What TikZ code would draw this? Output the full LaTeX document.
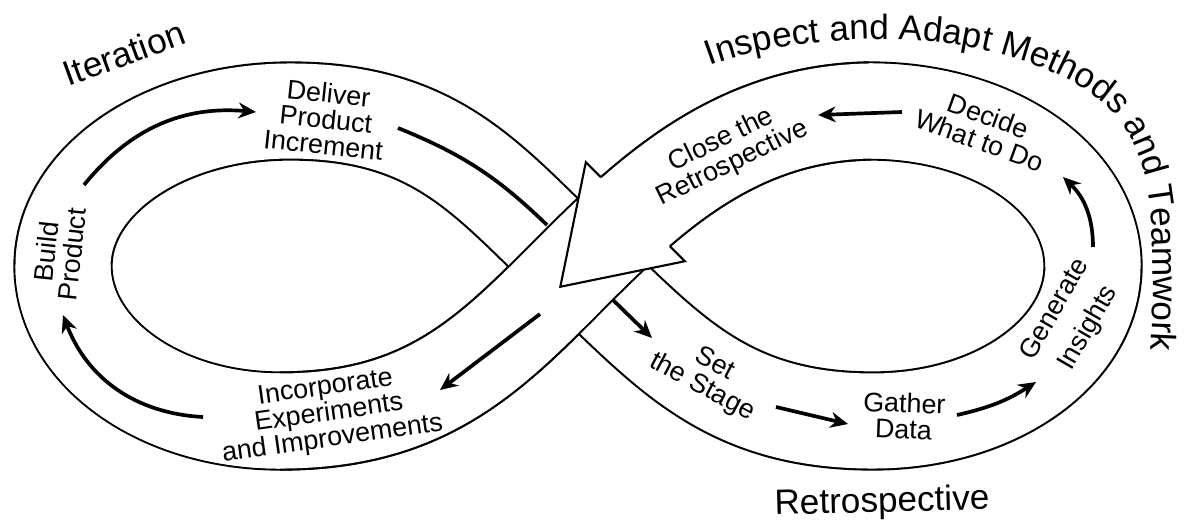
\documentclass[tikz,border=0pt]{standalone}
\usepackage{fontspec}
\setmainfont{Liberation Sans}
\usetikzlibrary{arrows.meta,decorations.text,calc}
\newcommand\figeightpath{(C) .. controls (666,348) and (723,421) .. (BR) .. controls (996,421) and (1093,352) .. (RR) .. controls (1093,180) and (996,111) .. (TR) .. controls (740,113) and (655,189) .. (C) .. controls (493,351) and (430,421) .. (BL) .. controls (160,421) and (63,352) .. (LL) .. controls (63,180) and (165,111) .. (TL) .. controls (440,111) and (490,184) .. (C)}
\newcommand\overbandpath{(BL) .. controls (430,421) and (493,351) .. (C) .. controls (655,189) and (740,113) .. (TR)}
\newcommand\overbandlong{(LL) .. controls (63,352) and (160,421) .. (BL) .. controls (430,421) and (493,351) .. (C) .. controls (655,189) and (740,113) .. (TR) .. controls (996,111) and (1093,180) .. (RR)}
\begin{document}
\setlength{\lineskiplimit}{-20pt}
\begin{tikzpicture}[x=0.02cm,y=-0.02cm,line cap=butt,
  bandedge/.style={line width=56.5pt,draw=black},
  bandwhite/.style={line width=54.1pt,draw=white},
  edgeline/.style={line width=1.2pt,line join=miter},
  flow/.style={line width=2.1pt,-{Stealth[length=10pt,width=9pt]}},
  flowline/.style={line width=2.1pt},
  lbl/.style={font=\fontsize{15.3}{14.8}\selectfont,align=center,inner sep=0pt},
  biglbl/.style={font=\fontsize{20}{24}\selectfont,inner sep=0pt}
]
\useasboundingbox (0,0) rectangle (1190,524);
\coordinate (TL) at (290,111);
\coordinate (C)  at (578,266);
\coordinate (BR) at (873,421);
\coordinate (RR) at (1093,266);
\coordinate (TR) at (870,111);
\coordinate (BL) at (280,421);
\coordinate (LL) at (63,266);
% whole figure-eight band
\draw[bandedge] \figeightpath;
\draw[bandwhite] \figeightpath;
% band crossing on top
\draw[bandedge] \overbandpath;
\draw[bandwhite] \overbandlong;
% big arrow head at the crossing
\path (C) .. controls (655,189) and (740,113) .. coordinate[pos=0.24] (M) (TR);
\coordinate (SHn) at ($(M)+(-34.5,-34.5)$);
\coordinate (SHs) at ($(M)+(34.5,34.5)$);
\coordinate (AHn) at ($(M)+(-49.5,-49.5)$);
\coordinate (AHs) at ($(M)+(49.5,49.5)$);
\coordinate (AHt) at ($(M)+(-75,75)$);
\fill[white] (SHn) -- (AHn) -- (AHt) -- (AHs) -- (SHs) -- cycle;
\draw[edgeline] (SHn) -- (AHn) -- (AHt) -- (AHs) -- (SHs);
% flow arrows
\coordinate (a1s) at (84,185);  \coordinate (a1e) at (256,112);
\coordinate (a2s) at (398,128); \coordinate (a2e) at (547,225);
\coordinate (a2t) at (613,300); \coordinate (a2u) at (652,338);
\coordinate (a3s) at (776,407); \coordinate (a3e) at (848,424);
\coordinate (a4s) at (957,415); \coordinate (a4e) at (1036,382);
\coordinate (a5s) at (1093,247); \coordinate (a5e) at (1063,177);
\coordinate (a6s) at (902,112); \coordinate (a6e) at (818,115);
\coordinate (a7s) at (540,314); \coordinate (a7e) at (440,390);
\coordinate (a8s) at (203,417); \coordinate (a8e) at (63,315);
\draw[flow] (a1s) to[bend left=28] (a1e);
\draw[flowline] (a2s) to[bend left=11] (a2e);
\draw[flow] (a2t) -- (a2u);
\draw[flow] (a3s) -- (a3e);
\draw[flow] (a4s) to[bend right=10] (a4e);
\draw[flow] (a5s) to[bend right=23] (a5e);
\draw[flow] (a6s) -- (a6e);
\draw[flow] (a7s) -- (a7e);
\draw[flow] (a8s) to[bend left=33] (a8e);
% labels
\node[biglbl,rotate=20] (iter) at (124,53) {Iteration};
\node[lbl,rotate=-6] (deliver) at (326,119) {Deliver\\Product\\Increment};
\node[lbl,rotate=84] (build) at (59,253) {Build\\Product};
\node[lbl,rotate=8] (incorp) at (329,414) {Incorporate\\Experiments\\and Improvements};
\node[lbl,rotate=-28] (setstage) at (708,376) {Set\\the Stage};
\node[lbl,rotate=-2] (gather) at (904,416) {Gather\\Data};
\node[lbl,rotate=60] (generate) at (1072,319) {Generate\\[7pt]Insights};
\node[lbl,rotate=-20] (decide) at (984,128) {Decide\\What to Do};
\node[lbl,rotate=26] (close) at (727,152) {Close the\\Retrospective};
\node[biglbl,rotate=1.5] (retro) at (882,503) {Retrospective};
\path[decorate,decoration={text along path,
  text={|\fontsize{20}{24}\selectfont|Inspect and Adapt Methods and Teamwork},
  text align={left}}]
  (710,66) .. controls (790,36) and (960,18) .. (1080,86)
  .. controls (1150,126) and (1153,200) .. (1153,280)
  .. controls (1153,320) and (1151,350) .. (1148,400);
\end{tikzpicture}
\end{document}
